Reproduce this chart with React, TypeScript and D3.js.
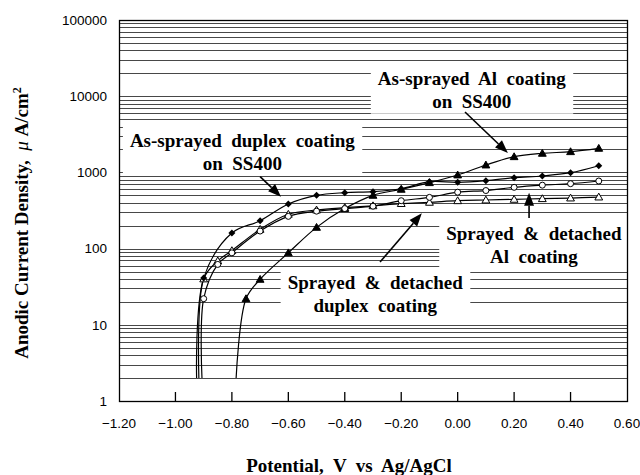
import React, { useEffect, useRef } from "react";
import * as d3 from "d3";

// Anodic polarization data, potential in V vs Ag/AgCl, current density in µA/cm²
const potentialDuplexSprayed = [-0.925, -0.9, -0.8, -0.7, -0.6, -0.5, -0.4, -0.3, -0.2, -0.1, 0.0, 0.1, 0.2, 0.3, 0.4, 0.5];
const currentDuplexSprayed = [2, 41, 160, 232, 385, 500, 542, 558, 610, 755, 740, 778, 852, 897, 991, 1224];

const potentialDuplexDetached = [-0.917, -0.9, -0.85, -0.8, -0.7, -0.6, -0.5, -0.4, -0.3, -0.2, -0.1, 0.0, 0.1, 0.2, 0.3, 0.4, 0.5];
const currentDuplexDetached = [2, 40, 69, 94, 179, 282, 321, 345, 365, 390, 405, 425, 434, 443, 452, 461, 475];

const potentialAlDetached = [-0.906, -0.9, -0.85, -0.8, -0.7, -0.6, -0.5, -0.4, -0.3, -0.2, -0.1, 0.0, 0.1, 0.2, 0.3, 0.4, 0.5];
const currentAlDetached = [2, 22, 62, 88, 170, 265, 310, 335, 360, 425, 470, 550, 578, 637, 680, 711, 771];

const potentialAlSprayed = [-0.785, -0.75, -0.7, -0.6, -0.5, -0.4, -0.3, -0.2, -0.1, 0.0, 0.1, 0.2, 0.3, 0.4, 0.5];
const currentAlSprayed = [2, 22, 39.5, 88, 190, 335, 500, 600, 733, 925, 1250, 1607, 1780, 1870, 2070];

const xTickValues = [-1.2, -1.0, -0.8, -0.6, -0.4, -0.2, 0.0, 0.2, 0.4, 0.6];
const yTickValues = [1, 10, 100, 1000, 10000, 100000];
const yTickLabels = ["1", "10", "100", "1000", "10000", "100000"];

type Marker = "diamond" | "triangle" | "circle" | "openTriangle";

const series: { x: number[]; y: number[]; marker: Marker }[] = [
  { x: potentialAlSprayed, y: currentAlSprayed, marker: "triangle" },
  { x: potentialDuplexDetached, y: currentDuplexDetached, marker: "openTriangle" },
  { x: potentialAlDetached, y: currentAlDetached, marker: "circle" },
  { x: potentialDuplexSprayed, y: currentDuplexSprayed, marker: "diamond" },
];

// Callout labels: text lines, anchor (potential, current), arrow from/to
const labelLines = [
  ["As-sprayed  Al  coating", "on  SS400"],
  ["As-sprayed  duplex  coating", "on  SS400"],
  ["Sprayed  &  detached", "Al  coating"],
  ["Sprayed  &  detached", "duplex  coating"],
];
const labelAnchors = [
  [0.05, 17300],
  [-0.763, 2660],
  [0.27, 160],
  [-0.292, 36.5],
];
const arrowFrom = [
  [0.026, 6200],
  [-0.70, 879],
  [0.253, 252],
  [-0.275, 66.7],
];
const arrowTo = [
  [0.178, 1800],
  [-0.626, 480],
  [0.253, 542],
  [-0.127, 290],
];

const W = 640;
const H = 475;
const M = { left: 119, top: 20, right: 13, bottom: 74 };
const serif = "'Liberation Serif', 'Times New Roman', serif";
const sans = "'Liberation Sans', Arial, sans-serif";

export default function App() {
  const ref = useRef<SVGSVGElement | null>(null);

  useEffect(() => {
    const svg = d3.select(ref.current);
    svg.selectAll("*").remove();

    const pw = W - M.left - M.right;
    const ph = H - M.top - M.bottom;
    const x = d3.scaleLinear().domain([-1.2, 0.6]).range([M.left, M.left + pw]);
    const y = d3.scaleLog().domain([1, 100000]).range([M.top + ph, M.top]);

    svg.append("rect").attr("width", W).attr("height", H).attr("fill", "#fff");

    // horizontal grid on every log step
    const grid = svg.append("g");
    y.ticks().forEach((v) => {
      grid
        .append("line")
        .attr("x1", M.left)
        .attr("x2", M.left + pw)
        .attr("y1", Math.round(y(v)) + 0.5)
        .attr("y2", Math.round(y(v)) + 0.5)
        .attr("stroke", "#333")
        .attr("stroke-width", 0.9);
    });

    // callout text with white backing
    const labels = svg.append("g");
    labelLines.forEach((lines, i) => {
      const cx = x(labelAnchors[i][0]);
      const cy = y(labelAnchors[i][1]);
      const g = labels.append("g");
      const bg = g.append("rect").attr("fill", "#fff");
      const t = g
        .append("text")
        .attr("font-family", serif)
        .attr("font-weight", "bold")
        .attr("font-size", 19)
        .attr("text-anchor", "middle")
        .style("white-space", "pre");
      lines.forEach((ln, j) => {
        t.append("tspan")
          .attr("x", cx)
          .attr("y", cy + j * 23)
          .attr("dy", "0.35em")
          .text(ln);
      });
      const bb = (t.node() as SVGTextElement).getBBox();
      bg.attr("x", bb.x - 7)
        .attr("y", bb.y - 4)
        .attr("width", bb.width + 14)
        .attr("height", bb.height + 6);
    });

    // series lines
    const line = d3
      .line<[number, number]>()
      .x((d) => x(d[0]))
      .y((d) => y(d[1]))
      .curve(d3.curveCatmullRom.alpha(0.5));
    const plot = svg.append("g");
    series.forEach((s) => {
      const pts = s.x.map((v, i) => [v, s.y[i]] as [number, number]);
      plot
        .append("path")
        .attr("d", line(pts))
        .attr("fill", "none")
        .attr("stroke", "#000")
        .attr("stroke-width", 1.2);
    });

    // markers (the first point of each sweep is the onset, drawn without a marker)
    series.forEach((s) => {
      s.x.forEach((v, i) => {
        if (i === 0) return;
        const px = x(v);
        const py = y(s.y[i]);
        if (s.marker === "diamond") {
          plot
            .append("path")
            .attr("d", `M${px},${py - 3.5}L${px + 3.5},${py}L${px},${py + 3.5}L${px - 3.5},${py}Z`)
            .attr("fill", "#000");
        } else if (s.marker === "triangle" || s.marker === "openTriangle") {
          const r = 3.9;
          plot
            .append("path")
            .attr("d", `M${px},${py - r}L${px + r},${py + r * 0.75}L${px - r},${py + r * 0.75}Z`)
            .attr("fill", s.marker === "triangle" ? "#000" : "#fff")
            .attr("stroke", "#000")
            .attr("stroke-width", 1);
        } else {
          plot
            .append("circle")
            .attr("cx", px)
            .attr("cy", py)
            .attr("r", 3)
            .attr("fill", "#fff")
            .attr("stroke", "#000")
            .attr("stroke-width", 1);
        }
      });
    });

    // arrows
    arrowFrom.forEach((f, i) => {
      const x1 = x(f[0]);
      const y1 = y(f[1]);
      const x2 = x(arrowTo[i][0]);
      const y2 = y(arrowTo[i][1]);
      const ang = Math.atan2(y2 - y1, x2 - x1);
      const hl = 13;
      const hw = 5;
      const bx = x2 - hl * Math.cos(ang);
      const by = y2 - hl * Math.sin(ang);
      svg
        .append("line")
        .attr("x1", x1)
        .attr("y1", y1)
        .attr("x2", bx)
        .attr("y2", by)
        .attr("stroke", "#000")
        .attr("stroke-width", 1.6);
      svg
        .append("path")
        .attr(
          "d",
          `M${x2},${y2}L${bx + hw * Math.sin(ang)},${by - hw * Math.cos(ang)}L${bx - hw * Math.sin(ang)},${by + hw * Math.cos(ang)}Z`
        )
        .attr("fill", "#000");
    });

    // frame
    svg
      .append("rect")
      .attr("x", M.left + 0.5)
      .attr("y", M.top + 0.5)
      .attr("width", pw)
      .attr("height", ph)
      .attr("fill", "none")
      .attr("stroke", "#000")
      .attr("stroke-width", 1.3);

    // x ticks (inside) and labels
    const axes = svg.append("g");
    xTickValues.forEach((v, i) => {
      const px = x(v);
      if (i > 0 && i < xTickValues.length - 1) {
        axes
          .append("line")
          .attr("x1", px)
          .attr("x2", px)
          .attr("y1", M.top + ph)
          .attr("y2", M.top + ph - 9)
          .attr("stroke", "#000")
          .attr("stroke-width", 1.3);
      }
      axes
        .append("text")
        .attr("x", px)
        .attr("y", M.top + ph + 22)
        .attr("dy", "0.35em")
        .attr("text-anchor", "middle")
        .attr("font-family", sans)
        .attr("font-size", 13.5)
        .text(v.toFixed(2).replace("-", "\u2212"));
    });

    yTickValues.forEach((v, i) => {
      axes
        .append("text")
        .attr("x", 107)
        .attr("y", y(v))
        .attr("dy", "0.35em")
        .attr("text-anchor", "end")
        .attr("font-family", sans)
        .attr("font-size", 13.5)
        .text(yTickLabels[i]);
    });

    // axis titles
    svg
      .append("text")
      .attr("x", 349)
      .attr("y", 465)
      .attr("dy", "0.35em")
      .attr("text-anchor", "middle")
      .attr("font-family", serif)
      .attr("font-weight", "bold")
      .attr("font-size", 19)
      .style("white-space", "pre")
      .text("Potential,  V  vs  Ag/AgCl");

    const yt = svg
      .append("text")
      .attr("transform", "translate(21,223) rotate(-90)")
      .attr("dy", "0.35em")
      .attr("text-anchor", "middle")
      .attr("font-family", serif)
      .attr("font-weight", "bold")
      .attr("font-size", 19)
      .style("white-space", "pre");
    yt.append("tspan").text("Anodic Current Density,  ");
    yt.append("tspan").attr("font-style", "italic").attr("font-weight", "normal").text("\u03bc");
    yt.append("tspan").text(" A/cm");
    yt.append("tspan").attr("baseline-shift", "super").attr("font-size", 12).text("2");
  }, []);

  return (
    <svg
      ref={ref}
      width={W}
      height={H}
      style={{ position: "absolute", left: 0, top: 0, display: "block" }}
    />
  );
}
